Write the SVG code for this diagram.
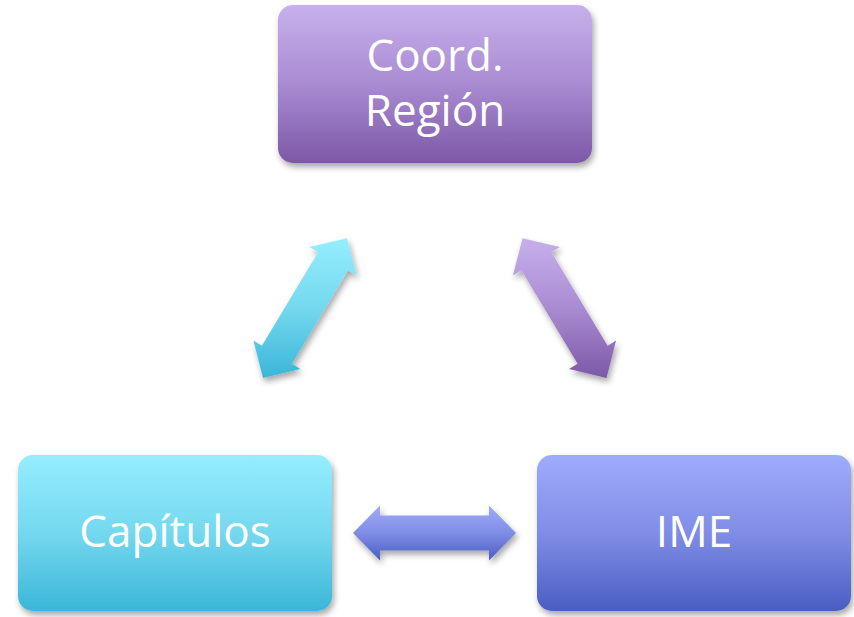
<svg xmlns="http://www.w3.org/2000/svg" width="854" height="617" viewBox="0 0 854 617">
<defs>
<linearGradient id="gPurple" x1="0" y1="0" x2="0" y2="1"><stop offset="0" stop-color="#c7b0ec"/><stop offset="0.5" stop-color="#a98bd2"/><stop offset="1" stop-color="#7d58a7"/></linearGradient>
<linearGradient id="gCyan" x1="0" y1="0" x2="0" y2="1"><stop offset="0" stop-color="#94eefe"/><stop offset="0.5" stop-color="#74d8ef"/><stop offset="1" stop-color="#3bb6d8"/></linearGradient>
<linearGradient id="gBlue" x1="0" y1="0" x2="0" y2="1"><stop offset="0" stop-color="#9fabfb"/><stop offset="0.5" stop-color="#7f8de6"/><stop offset="1" stop-color="#4a5dc2"/></linearGradient>
<filter id="sh" x="-10%" y="-10%" width="125%" height="130%"><feDropShadow dx="2" dy="4" stdDeviation="3" flood-color="#000" flood-opacity="0.35"/></filter>
</defs>
<style>
.lbl{font-family:"Open Sans","Noto Sans",sans-serif;font-size:44px;fill:#ffffff;text-anchor:middle}
</style>
<g id="connectors" filter="url(#sh)">
<polygon id="arrow-cap-coord" fill="url(#gCyan)" points="263,377.9 253.4,340.5 261.9,345.7 318.1,252.3 309.5,247.1 347,238.2 356.6,275.5 348.1,270.3 291.9,363.7 300.5,368.9"/>
<polygon id="arrow-coord-ime" fill="url(#gPurple)" points="606.5,377.9 616.1,340.5 607.6,345.7 551.4,252.3 560,247.1 522.5,238.2 512.9,275.5 521.4,270.3 577.6,363.7 569,368.9"/>
<polygon id="arrow-cap-ime" fill="url(#gBlue)" points="353,533 380,505.5 380,515.5 489,515.5 489,505.5 516,533 489,560.5 489,550.5 380,550.5 380,560.5"/>
</g>
<g id="coord">
<rect x="278" y="5" width="314" height="158" rx="15" fill="url(#gPurple)" filter="url(#sh)"/>
<text class="lbl" x="435" y="71">Coord.</text>
<text class="lbl" x="435" y="126">Región</text>
</g>
<g id="capitulos">
<rect x="18" y="455" width="314" height="156" rx="15" fill="url(#gCyan)" filter="url(#sh)"/>
<text class="lbl" x="175" y="547">Capítulos</text>
</g>
<g id="ime">
<rect x="537" y="455" width="314" height="156" rx="15" fill="url(#gBlue)" filter="url(#sh)"/>
<text class="lbl" x="694" y="547">IME</text>
</g>
</svg>
